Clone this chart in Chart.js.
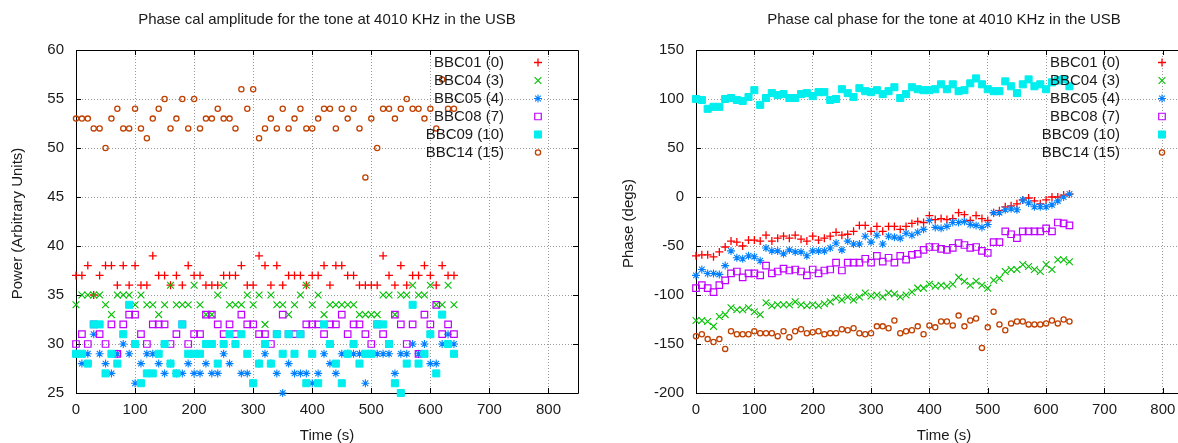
<!DOCTYPE html>
<html>
<head>
<meta charset="utf-8">
<title>Phase cal</title>
<script src="https://cdn.jsdelivr.net/npm/chart.js@4.4.0/dist/chart.umd.min.js"></script>
<style>
  html, body { margin: 0; padding: 0; background: #fff; overflow: hidden; }
  #wrap { position: relative; width: 1178px; height: 443px; overflow: hidden; }
  .panel { position: absolute; top: 0; }
</style>
</head>
<body>
<div id="wrap">
  <canvas id="amp" class="panel" style="left:0" width="600" height="443"></canvas>
  <canvas id="phase" class="panel" style="left:620px" width="600" height="443"></canvas>
</div>
<script>
// sample times (s)
const times = [0, 10, 20, 30, 40, 50, 60, 70, 80, 90, 100, 110, 120, 130, 140, 150, 160, 170, 180, 190,
  200, 210, 220, 230, 240, 250, 260, 270, 280, 290, 300, 310, 320, 330, 340, 350, 360, 370, 380, 390,
  400, 410, 420, 430, 440, 450, 460, 470, 480, 490, 500, 510, 520, 530, 540, 550, 560, 570, 580, 590,
  600, 610, 620, 630, 640];

const bbcLabels = ['BBC01 (0)', 'BBC04 (3)', 'BBC05 (4)', 'BBC08 (7)', 'BBC09 (10)', 'BBC14 (15)'];

// amplitude (arbitrary units)
const ampBBC01 = [37, 37, 38, 35, 37, 38, 38, 36, 38, 36, 38, 36, 36, 39, 37, 37, 36, 37, 36, 38,
  37, 37, 36, 36, 36, 37, 37, 37, 38, 36, 36, 39, 38, 36, 38, 36, 37, 37, 37, 36,
  37, 37, 38, 36, 38, 38, 37, 37, 36, 36, 36, 36, 39, 37, 36, 38, 36, 37, 37, 38,
  37, 36, 38, 37, 37];
const ampBBC04 = [34, 35, 35, 35, 35, 34, 33, 35, 35, 35, 34, 35, 34, 34, 33, 34, 36, 34, 34, 34,
  36, 34, 33, 33, 35, 36, 34, 34, 34, 35, 34, 35, 32, 35, 34, 34, 33, 34, 35, 36,
  34, 35, 33, 34, 34, 34, 34, 34, 33, 33, 33, 33, 35, 35, 33, 35, 35, 36, 35, 35,
  36, 34, 34, 36, 34];
const ampBBC05 = [29, 28, 29, 31, 29, 28, 27, 29, 30, 29, 26, 28, 29, 29, 28, 27, 28, 27, 27, 28,
  27, 27, 28, 27, 27, 29, 28, 30, 27, 27, 26, 28, 29, 28, 27, 25, 28, 27, 27, 27,
  26, 27, 29, 28, 27, 29, 29, 29, 29, 26, 29, 29, 29, 29, 27, 29, 29, 30, 29, 30,
  28, 28, 30, 31, 30];
const ampBBC08 = [30, 31, 30, 32, 31, 30, 32, 29, 32, 33, 33, 31, 30, 32, 32, 32, 30, 31, 32, 30,
  31, 31, 33, 33, 32, 31, 32, 31, 33, 32, 32, 31, 31, 30, 31, 33, 31, 31, 31, 32,
  32, 32, 31, 32, 32, 33, 31, 32, 32, 31, 30, 32, 31, 30, 33, 32, 30, 32, 29, 33,
  32, 34, 31, 32, 31];
const ampBBC09 = [29, 29, 28, 32, 32, 27, 29, 28, 31, 34, 30, 26, 27, 27, 29, 30, 28, 27, 32, 29,
  29, 29, 30, 30, 28, 30, 31, 30, 31, 29, 26, 28, 30, 28, 31, 29, 31, 29, 31, 26,
  29, 26, 32, 30, 28, 26, 29, 30, 28, 29, 29, 32, 32, 30, 26, 25, 28, 34, 28, 29,
  31, 27, 33, 30, 29];
const ampBBC14 = [53, 53, 53, 52, 52, 50, 53, 54, 52, 52, 54, 52, 51, 53, 54, 55, 52, 53, 55, 52,
  55, 52, 53, 53, 54, 53, 53, 52, 56, 54, 56, 51, 52, 53, 52, 54, 52, 53, 54, 52,
  52, 53, 54, 54, 52, 54, 53, 54, 52, 47, 53, 50, 54, 54, 53, 54, 55, 54, 54, 53,
  54, 52, 57, 54, 54];

// phase (degrees)
const phaseBBC01 = [-60, -59, -59, -61, -56, -51, -45, -46, -50, -44, -44, -45, -39, -45, -42, -40, -42, -39, -43, -45,
  -40, -44, -42, -40, -36, -39, -38, -35, -29, -29, -35, -30, -35, -30, -30, -33, -30, -27, -25, -26,
  -19, -23, -22, -23, -22, -16, -18, -24, -19, -22, -24, -16, -14, -10, -9, -7, -3, -1, -4, -7,
  -3, 0, 0, 2, 3];
const phaseBBC04 = [-126, -126, -127, -132, -122, -120, -113, -115, -115, -113, -117, -120, -108, -111, -110, -110, -110, -107, -110, -111,
  -110, -111, -109, -107, -103, -105, -102, -105, -102, -98, -101, -100, -102, -98, -99, -102, -100, -97, -93, -93,
  -89, -91, -90, -91, -89, -82, -86, -90, -86, -90, -93, -85, -83, -76, -74, -74, -69, -71, -74, -76,
  -69, -74, -64, -64, -66];
const phaseBBC05 = [-80, -74, -78, -78, -79, -70, -55, -62, -63, -60, -61, -65, -52, -55, -55, -58, -54, -56, -56, -60,
  -55, -55, -55, -52, -47, -54, -45, -48, -48, -40, -46, -39, -48, -40, -41, -42, -37, -39, -36, -33,
  -24, -31, -32, -30, -26, -26, -25, -28, -29, -31, -28, -16, -16, -13, -12, -13, -3, -6, -10, -10,
  -10, -8, -4, 0, 3];
const phaseBBC08 = [-93, -90, -93, -97, -90, -85, -78, -76, -82, -78, -78, -80, -70, -78, -76, -73, -75, -74, -76, -80,
  -74, -78, -75, -74, -67, -75, -67, -67, -67, -63, -67, -60, -66, -62, -67, -60, -64, -59, -58, -54,
  -51, -51, -53, -54, -52, -47, -49, -52, -51, -55, -57, -46, -46, -35, -38, -42, -35, -35, -35, -35,
  -32, -35, -26, -27, -29];
const phaseBBC09 = [100, 99, 90, 92, 92, 100, 101, 99, 98, 102, 109, 94, 101, 106, 104, 105, 101, 101, 105, 106,
  103, 107, 107, 99, 100, 110, 106, 102, 111, 108, 107, 109, 105, 108, 112, 101, 105, 112, 110, 109,
  109, 110, 115, 110, 115, 108, 109, 116, 121, 115, 110, 108, 108, 118, 113, 106, 115, 120, 113, 115,
  110, 117, 119, 120, 113];
const phaseBBC14 = [-142, -140, -145, -148, -145, -155, -137, -140, -140, -140, -137, -139, -139, -139, -142, -137, -143, -137, -135, -139,
  -138, -137, -140, -139, -139, -135, -136, -134, -139, -140, -139, -132, -132, -134, -126, -139, -137, -136, -132, -140,
  -131, -133, -127, -127, -131, -121, -132, -126, -124, -154, -133, -117, -130, -136, -129, -127, -127, -130, -130, -130,
  -129, -126, -129, -125, -127];

// axis ticks
const timeTicks = [0, 100, 200, 300, 400, 500, 600, 700, 800];
const ampTicks = [25, 30, 35, 40, 45, 50, 55, 60];
const phaseTicks = [-200, -150, -100, -50, 0, 50, 100, 150];

// gnuplot-ish point types, one per BBC
const marks = [
  { color: '#ff0000', pointStyle: 'cross', radius: 4, width: 1.3, fill: false },
  { color: '#00c000', pointStyle: 'crossRot', radius: 4.8, width: 1.1, fill: false },
  { color: '#0080ff', pointStyle: 'star', radius: 4, width: 1.1, fill: false },
  { color: '#c000ff', pointStyle: 'rect', radius: 4.6, width: 1.2, fill: false },
  { color: '#00eeee', pointStyle: 'rect', radius: 5, width: 1, fill: true },
  { color: '#c04000', pointStyle: 'circle', radius: 2.6, width: 1.3, fill: false },
];

const FONT = '"Liberation Sans", Arial, sans-serif';

function makeDatasets(series) {
  return series.map((vals, i) => ({
    label: bbcLabels[i],
    data: times.map((t, k) => ({ x: t, y: vals[k] })),
    showLine: false,
    pointStyle: marks[i].pointStyle,
    pointRadius: marks[i].radius,
    pointHoverRadius: marks[i].radius,
    pointBorderWidth: marks[i].width,
    borderColor: marks[i].color,
    backgroundColor: marks[i].fill ? marks[i].color : 'rgba(0,0,0,0)',
    clip: false,
    order: series.length - i, // later BBCs drawn on top
  }));
}

// border box, inward tick marks, titles and key, gnuplot style
function gnuFrame(cfg) {
  return {
    id: 'gnuFrame',
    beforeDatasetsDraw(chart) {
      const { ctx, chartArea: a, scales } = chart;
      ctx.save();
      ctx.strokeStyle = '#000';
      ctx.lineWidth = 1;
      ctx.beginPath();
      ctx.rect(a.left + 0.5, a.top + 0.5, a.right - a.left, a.bottom - a.top);
      timeTicks.forEach(v => {
        const x = Math.round(scales.x.getPixelForValue(v)) + 0.5;
        ctx.moveTo(x, a.bottom); ctx.lineTo(x, a.bottom - 5);
        ctx.moveTo(x, a.top); ctx.lineTo(x, a.top + 5);
      });
      cfg.yTicks.forEach(v => {
        const y = Math.round(scales.y.getPixelForValue(v)) + 0.5;
        ctx.moveTo(a.left, y); ctx.lineTo(a.left + 5, y);
        ctx.moveTo(a.right, y); ctx.lineTo(a.right - 5, y);
      });
      ctx.stroke();
      ctx.restore();
    },
    afterDatasetsDraw(chart) {
      const { ctx, chartArea: a } = chart;
      const cx = (a.left + a.right) / 2;
      ctx.save();
      ctx.fillStyle = '#1a1a1a';
      ctx.font = '15px ' + FONT;
      ctx.textBaseline = 'middle';
      ctx.textAlign = 'center';
      ctx.fillText(cfg.title, cx, 20);
      ctx.fillText('Time (s)', cx, 436);

      ctx.save();
      ctx.translate(cfg.yTitleX, (a.top + a.bottom) / 2 + 2);
      ctx.rotate(-Math.PI / 2);
      ctx.fillText(cfg.yTitle, 0, 0);
      ctx.restore();

      // key
      ctx.textAlign = 'right';
      chart.data.datasets.forEach((ds, i) => {
        const y = 62.5 + i * 18;
        ctx.fillStyle = '#1a1a1a';
        ctx.fillText(ds.label, cfg.keyTextRight, y);
        const m = marks[i];
        ctx.strokeStyle = m.color;
        ctx.fillStyle = m.fill ? m.color : 'rgba(0,0,0,0)';
        ctx.lineWidth = m.width;
        Chart.helpers.drawPoint(ctx, {
          pointStyle: m.pointStyle, radius: m.radius, rotation: 0, borderWidth: m.width
        }, cfg.keyMarkerX, y);
      });
      ctx.restore();
    }
  };
}

function makeScales(yMin, yMax, yTicks) {
  const tickFont = { family: FONT, size: 15 };
  return {
    x: {
      type: 'linear', min: 0, max: 850,
      afterBuildTicks: s => { s.ticks = timeTicks.map(v => ({ value: v })); },
      afterFit: s => { s.height = 50; },
      ticks: { font: tickFont, color: '#1a1a1a', padding: 8, maxRotation: 0, autoSkip: false },
      grid: { color: '#9a9a9a', lineWidth: 1, drawTicks: false },
      border: { display: false, dash: [1, 2] },
    },
    y: {
      type: 'linear', min: yMin, max: yMax,
      afterBuildTicks: s => { s.ticks = yTicks.map(v => ({ value: v })); },
      afterFit: s => { s.width = 76; },
      ticks: { font: tickFont, color: '#1a1a1a', padding: 12, autoSkip: false },
      grid: { color: '#9a9a9a', lineWidth: 1, drawTicks: false },
      border: { display: false, dash: [1, 2] },
    },
  };
}

function baseOptions(yMin, yMax, yTicks, padRight) {
  return {
    responsive: false,
    animation: false,
    devicePixelRatio: 1,
    layout: { padding: { top: 50, right: padRight, bottom: 0, left: 0 } },
    plugins: { legend: { display: false }, title: { display: false }, tooltip: { enabled: false } },
    scales: makeScales(yMin, yMax, yTicks),
  };
}

new Chart(document.getElementById('amp'), {
  type: 'scatter',
  data: { datasets: makeDatasets([ampBBC01, ampBBC04, ampBBC05, ampBBC08, ampBBC09, ampBBC14]) },
  options: baseOptions(25, 60, ampTicks, 22),
  plugins: [gnuFrame({
    title: 'Phase cal amplitude for the tone at 4010 KHz in the USB',
    yTitle: 'Power (Arbitrary Units)', yTitleX: 18, yTicks: ampTicks,
    keyTextRight: 504, keyMarkerX: 538,
  })],
});

new Chart(document.getElementById('phase'), {
  type: 'scatter',
  data: { datasets: makeDatasets([phaseBBC01, phaseBBC04, phaseBBC05, phaseBBC08, phaseBBC09, phaseBBC14]) },
  options: baseOptions(-200, 150, phaseTicks, 28),
  plugins: [gnuFrame({
    title: 'Phase cal phase for the tone at 4010 KHz in the USB',
    yTitle: 'Phase (degs)', yTitleX: 9, yTicks: phaseTicks,
    keyTextRight: 500, keyMarkerX: 542,
  })],
});
</script>
</body>
</html>
